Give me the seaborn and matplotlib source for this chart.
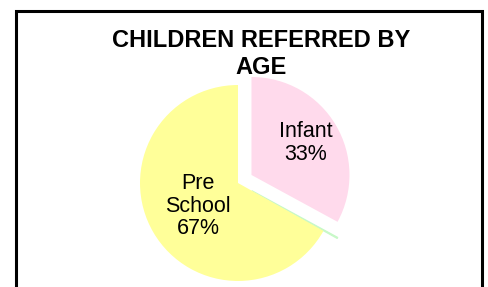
import matplotlib
matplotlib.use("Agg")
import matplotlib.pyplot as plt
import seaborn as sns
import numpy as np

# data
categories = ["Infant", "Other", "Pre School"]
label_text = ["Infant", "", "Pre\nSchool"]
counts = [33, 0.2, 67]
colors = ["#FFDAEC", "#CCFFCC", "#FFFF99"]
explode = [0.16, 0.16, 0.0]
label_radius = [0.64, 0.0, 0.47]

sns.set_theme(style="white")
plt.rcParams["font.family"] = ["Liberation Sans", "DejaVu Sans"]
plt.rcParams["text.color"] = "black"

fig = plt.figure(figsize=(4.88, 2.87), dpi=100)
fig.patch.set_facecolor("white")

# outer chart border (bottom runs off the image)
fig.patches.append(plt.Rectangle((15.5 / 488, -0.1), 466 / 488, 1.1 - 11 / 287,
                                 transform=fig.transFigure, fill=False,
                                 edgecolor="black", linewidth=2.2))

fig.text(0.535, 0.812, "CHILDREN REFERRED BY\nAGE", ha="center", va="center",
         fontsize=17, fontweight="bold", linespacing=1.27)

ax = fig.add_axes([0.2418, -0.0557, 0.4918, 0.8362])
wedges, _ = ax.pie(counts, colors=colors, explode=explode, startangle=90,
                   counterclock=False, wedgeprops=dict(linewidth=0))
wedges[1].set_edgecolor("#C8F8C8")
wedges[1].set_linewidth(0.8)

total = sum(counts)
for w, txt, val, rr, ex in zip(wedges, label_text, counts, label_radius, explode):
    if not txt:
        continue
    mid = np.deg2rad((w.theta1 + w.theta2) / 2)
    cx, cy = w.center
    ax.text(cx + rr * np.cos(mid), cy + rr * np.sin(mid),
            f"{txt}\n{round(100 * val / total)}%", ha="center", va="center",
            fontsize=15.5, linespacing=1.1)

lim = 120 / 98
ax.set_xlim(-lim, lim)
ax.set_ylim(-lim, lim)
ax.set_aspect("equal", adjustable="box")
ax.axis("off")

fig.savefig("out.png", dpi=100)
